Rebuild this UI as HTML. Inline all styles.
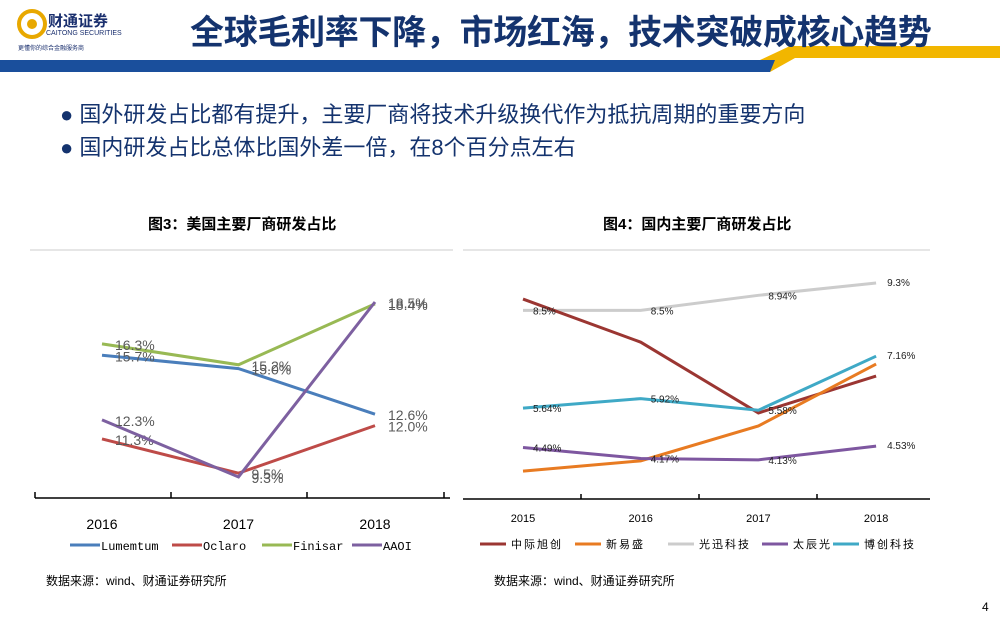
<!DOCTYPE html>
<html><head><meta charset="utf-8"><style>
body{margin:0;width:1000px;height:625px;overflow:hidden;background:#fff;font-family:"Liberation Sans","Noto Sans CJK SC",sans-serif;position:relative}
.abs{position:absolute}
</style></head><body>
<div class="abs" style="left:0;top:0;width:1000px;height:75px">
<svg width="1000" height="75">
<polygon points="0,60 760,60 790,46 1000,46 1000,58 795,58 770,72 0,72" fill="#f2b600"/>
<polygon points="0,60 775,60 770,72 0,72" fill="#1a4f9c"/>
<circle cx="32" cy="24" r="13" fill="none" stroke="#e8a800" stroke-width="4"/>
<circle cx="32" cy="24" r="5" fill="#e8a800"/>
</svg>
<div class="abs" style="left:48px;top:10px;font-size:15px;font-weight:bold;color:#1a2f6e">财通证券</div>
<div class="abs" style="left:46px;top:30px;font-size:7px;color:#1a2f6e">CAITONG SECURITIES</div>
<div class="abs" style="left:18px;top:43px;font-size:6px;color:#1a2f6e">更懂你的综合金融服务商</div>
<div class="abs" style="left:190px;top:5px;font-size:34px;font-weight:bold;color:#14336e;letter-spacing:-0.3px">全球毛利率下降，市场红海，技术突破成核心趋势</div>
</div>
<div class="abs" style="left:60px;top:97px;font-size:22px;color:#14336e">● 国外研发占比都有提升，主要厂商将技术升级换代作为抵抗周期的重要方向</div>
<div class="abs" style="left:60px;top:130px;font-size:22px;color:#14336e">● 国内研发占比总体比国外差一倍，在8个百分点左右</div>
<div class="abs" style="left:148px;top:213px;font-size:15px;font-weight:bold">图3：美国主要厂商研发占比</div>
<div class="abs" style="left:603px;top:213px;font-size:15px;font-weight:bold">图4：国内主要厂商研发占比</div>
<div class="abs" style="left:46px;top:572px;font-size:12px">数据来源：wind、财通证券研究所</div>
<div class="abs" style="left:494px;top:572px;font-size:12px">数据来源：wind、财通证券研究所</div>
<div class="abs" style="left:982px;top:600px;font-size:12px">4</div>
<svg class="abs" style="left:0;top:0" width="1000" height="625" id="charts">
<line x1="30" y1="250" x2="453" y2="250" stroke="#ccc"/>
<line x1="463" y1="250" x2="930" y2="250" stroke="#ccc"/>
</svg>
<script>
const yearsL=["2016","2017","2018"];
const namesL=["Lumemtum","Oclaro","Finisar","AAOI"];
const colorsL=["#4a7ebb","#be4b48","#98b954","#7d60a0"];
const lumentum=[15.7,15.0,12.6];
const oclaro=[11.3,9.5,12.0];
const finisar=[16.3,15.2,18.4];
const aaoi=[12.3,9.3,18.5];
const yearsR=["2015","2016","2017","2018"];
const namesR=["中际旭创","新易盛","光迅科技","太辰光","博创科技"];
const colorsR=["#9b3632","#e87b22","#cccccc","#7e57a0","#3fa9c6"];
const zjxc=[8.83,7.57,5.5,6.58];
const xys=[3.8,4.1,5.12,6.93];
const gxkj=[8.5,8.5,8.94,9.3];
const tcg=[4.49,4.17,4.13,4.53];
const bckj=[5.64,5.92,5.58,7.16];
const labelsR=[[null,null,null,null],[null,null,null,null],["8.5%","8.5%","8.94%","9.3%"],["4.49%","4.17%","4.13%","4.53%"],["5.64%","5.92%","5.58%","7.16%"]];
const svg=document.getElementById('charts');const NS="http://www.w3.org/2000/svg";
function mk(t,a,p){const e=document.createElementNS(NS,t);for(const k in a)e.setAttribute(k,a[k]);(p||svg).appendChild(e);return e;}
const xL=i=>102+i*136.5, yL=v=>302+(18.5-v)*19.02;
const seriesL=[lumentum,oclaro,finisar,aaoi];
let ax=mk('line',{x1:35,y1:498,x2:450,y2:498,stroke:'#000','stroke-width':1.5});

[35,171,307,444].forEach(x=>mk('line',{x1:x,y1:492,x2:x,y2:498,stroke:'#000','stroke-width':1.5}));
yearsL.forEach((y,i)=>{const t=mk('text',{x:xL(i),y:529,'text-anchor':'middle','font-size':14,fill:'#000'});t.textContent=y;
});
seriesL.forEach((s,k)=>{const p=mk('polyline',{points:s.map((v,i)=>xL(i)+','+yL(v)).join(' '),fill:'none',stroke:colorsL[k],'stroke-width':3});

s.forEach((v,i)=>{const t=mk('text',{x:xL(i)+13,y:yL(v)+6,'font-size':14,fill:'#595959'});t.textContent=v.toFixed(1)+'%';
});});
let lx=[70,172,262,352];
namesL.forEach((n,k)=>{mk('line',{x1:lx[k],y1:545,x2:lx[k]+30,y2:545,stroke:colorsL[k],'stroke-width':3});
const t=mk('text',{x:lx[k]+31,y:550,'font-size':12,fill:'#000','font-family':'Liberation Mono, monospace'});t.textContent=n;
});
const xR=i=>523+i*117.7, yR=v=>283+(9.3-v)*34.2;
const seriesR=[zjxc,xys,gxkj,tcg,bckj];
let ax2=mk('line',{x1:463,y1:499,x2:930,y2:499,stroke:'#000','stroke-width':1.5});

[581,699,817].forEach(x=>mk('line',{x1:x,y1:494,x2:x,y2:499,stroke:'#000','stroke-width':1.5}));
yearsR.forEach((y,i)=>{const t=mk('text',{x:xR(i),y:522,'text-anchor':'middle','font-size':11,fill:'#000'});t.textContent=y;
});
[2,0,1,3,4].forEach(k=>{const s=seriesR[k];const p=mk('polyline',{points:s.map((v,i)=>xR(i)+','+yR(v)).join(' '),fill:'none',stroke:colorsR[k],'stroke-width':3});
});
[2,3,4].forEach(k=>{seriesR[k].forEach((v,i)=>{const lab=labelsR[k][i];const x=i==3?xR(i)+11:xR(i)+10;
const t=mk('text',{x:x,y:yR(v)+(i==3?3:4),'font-size':10,fill:'#222'});t.textContent=lab;
});});
let rx=[480,575,668,762,833];
namesR.forEach((n,k)=>{mk('line',{x1:rx[k],y1:544,x2:rx[k]+26,y2:544,stroke:colorsR[k],'stroke-width':3});
const t=mk('text',{x:rx[k]+31,y:548,'font-size':11,fill:'#000','letter-spacing':'2'});t.textContent=n;
});
</script>
</body></html>
